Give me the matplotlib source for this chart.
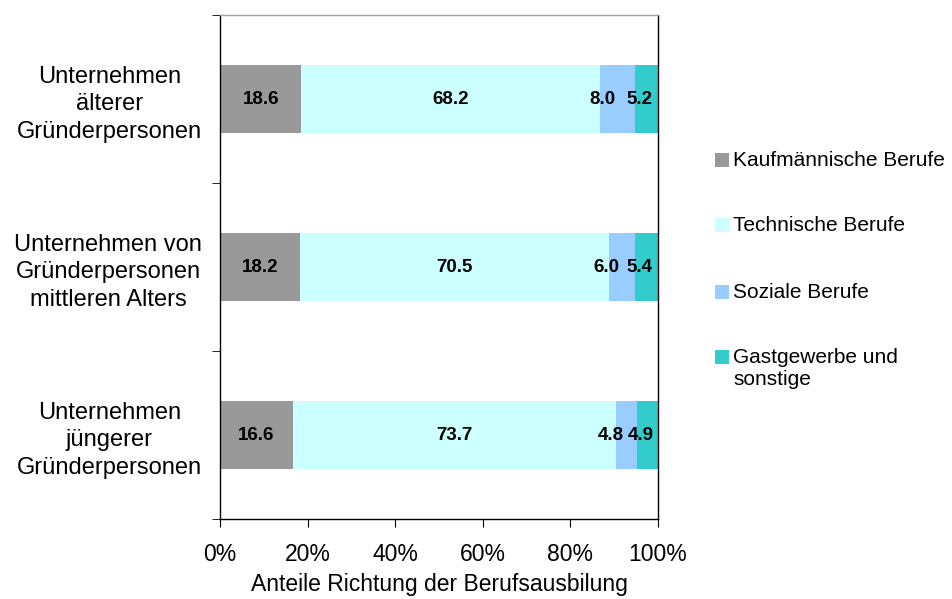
import matplotlib
matplotlib.use("Agg")
import matplotlib.pyplot as plt
import numpy as np
from matplotlib.patches import Rectangle

plt.rcParams["font.family"] = ["Liberation Sans", "DejaVu Sans"]

groups = [
    "Unternehmen\nälterer\nGründerpersonen",
    "Unternehmen von\nGründerpersonen\nmittleren Alters",
    "Unternehmen\njüngerer\nGründerpersonen",
]
series = [
    "Kaufmännische Berufe",
    "Technische Berufe",
    "Soziale Berufe",
    "Gastgewerbe und\nsonstige",
]
kaufm = [18.6, 18.2, 16.6]
techn = [68.2, 70.5, 73.7]
sozial = [8.0, 6.0, 4.8]
gast = [5.2, 5.4, 4.9]

colors = ["#999999", "#CCFFFF", "#99CCFF", "#33CCCC"]
# Excel pushes the small labels a bit to the left (points)
label_shift = [0, 0, -11, -5]

fig = plt.figure(figsize=(9.52, 5.99), dpi=100)
ax = fig.add_axes([220 / 952, 80 / 599, 438 / 952, 504 / 599])

y = np.arange(len(groups))
left = np.zeros(len(groups))
for vals, col, dx in zip([kaufm, techn, sozial, gast], colors, label_shift):
    vals = np.array(vals)
    ax.barh(y, vals, left=left, height=0.4, color=col, edgecolor="none")
    for yi, l, v in zip(y, left, vals):
        ax.annotate(f"{v:.1f}", (l + v / 2, yi), xytext=(dx, 0),
                    textcoords="offset points", ha="center", va="center",
                    fontsize=13.5, fontweight="bold", color="black")
    left += vals

ax.set_xlim(0, 100)
ax.set_ylim(2.5, -0.5)
ax.set_xticks(np.arange(0, 101, 20))
ax.set_xticklabels([f"{t}%" for t in range(0, 101, 20)], fontsize=16.5)
ax.tick_params(axis="x", length=6, direction="out", pad=11, color="black")
ax.set_xlabel("Anteile Richtung der Berufsausbilung", fontsize=16.5, labelpad=5)

ax.set_yticks(y)
ax.set_yticklabels(groups, fontsize=17, multialignment="center", linespacing=1.35)
ax.tick_params(axis="y", which="major", length=0, pad=13)
ax.set_yticks(np.arange(-0.5, 3, 1), minor=True)
ax.tick_params(axis="y", which="minor", length=6, direction="out", color="black")

for s in ["left", "right", "bottom"]:
    ax.spines[s].set_color("black")
    ax.spines[s].set_linewidth(1)
ax.spines["top"].set_color("#A0A0A0")
ax.spines["top"].set_linewidth(1)

# legend drawn by hand to match the spacing of the original
leg_y = [160, 225, 292, 357]
for name, col, yy in zip(series, colors, leg_y):
    fy = 1 - yy / 599
    fig.patches.append(Rectangle((715 / 952, fy - 7 / 599), 14 / 952, 14 / 599,
                                 transform=fig.transFigure, facecolor=col,
                                 edgecolor="none"))
    fig.text(733 / 952, fy + 9 / 599, name, fontsize=15, ha="left", va="top",
             linespacing=1.2)

fig.savefig("out.png", dpi=100)
